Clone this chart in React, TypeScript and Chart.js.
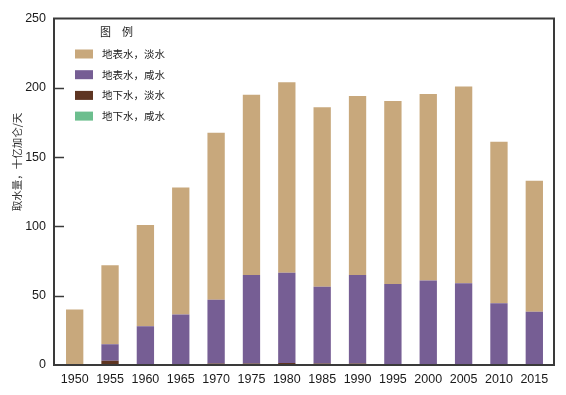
import React, { useEffect, useRef } from 'react';
import { Chart, registerables } from 'chart.js';

Chart.register(...registerables);

const years = ['1950', '1955', '1960', '1965', '1970', '1975', '1980', '1985', '1990', '1995', '2000', '2005', '2010', '2015'];
const groundFresh = [0, 3, 0.5, 0.5, 1, 1, 1.5, 1, 1, 0.5, 0.5, 0.5, 0.5, 0.5];
const groundSaline = [0, 0, 0, 0, 0, 0, 0, 0, 0, 0, 0, 0, 0, 0];
const surfaceSaline = [0, 12, 27.5, 36, 46, 64, 65, 55.5, 64, 58, 60.5, 58.5, 44, 38];
const surfaceFresh = [40, 57, 73, 91.5, 120.5, 130, 137.5, 129.5, 129, 132, 134.5, 142, 116.5, 94.5];
const yTicks = [0, 50, 100, 150, 200, 250];

const legendTitle = '图　例';
const yTitle = '取水量，十亿加仑/天';
const legendOrder = [3, 2, 0, 1];

const NUM_FONT = "'Liberation Sans', Arial, sans-serif";
const CJK_FONT = "'Noto Sans CJK SC', sans-serif";

const decorPlugin = {
  id: 'decor',
  afterDraw(chart: any) {
    const ctx = chart.ctx;
    const area = chart.chartArea;
    const yScale = chart.scales.y;
    const fl = area.left - 3;
    const fr = area.right + 2;
    const ft = area.top;
    const fb = area.bottom;
    ctx.save();
    ctx.strokeStyle = '#3a3a3a';
    ctx.lineWidth = 2;
    ctx.strokeRect(fl, ft, fr - fl, fb - ft);
    ctx.lineWidth = 1.5;
    yTicks.forEach((v) => {
      if (v === 0 || v === 250) return;
      const y = Math.round(yScale.getPixelForValue(v)) + 0.5;
      ctx.beginPath();
      ctx.moveTo(fl, y);
      ctx.lineTo(fl + 10, y);
      ctx.stroke();
    });
    ctx.fillStyle = '#333';
    ctx.font = `10.5px ${CJK_FONT}`;
    ctx.textAlign = 'center';
    ctx.textBaseline = 'middle';
    ctx.translate(17, 162);
    ctx.rotate(-Math.PI / 2);
    ctx.fillText(yTitle, 0, 0);
    ctx.restore();

    ctx.save();
    ctx.fillStyle = '#222';
    ctx.font = `11px ${CJK_FONT}`;
    ctx.textAlign = 'left';
    ctx.textBaseline = 'middle';
    ctx.fillText(legendTitle, 100, 32);
    legendOrder.forEach((idx, i) => {
      const d = chart.data.datasets[idx];
      const cy = 54 + i * 20.7;
      ctx.fillStyle = d.backgroundColor;
      ctx.fillRect(75, cy - 4.5, 18, 9);
      ctx.fillStyle = '#222';
      ctx.font = `10.5px ${CJK_FONT}`;
      ctx.fillText(d.label, 102, cy);
    });
    ctx.restore();
  },
};

export default function App() {
  const ref = useRef<HTMLCanvasElement>(null);
  useEffect(() => {
    document.body.style.margin = '0';
    const chart = new Chart(ref.current!, {
      type: 'bar',
      data: {
        labels: years,
        datasets: [
          { label: '地下水，淡水', data: groundFresh, backgroundColor: '#5E3522' },
          { label: '地下水，咸水', data: groundSaline, backgroundColor: '#6CBE8E' },
          { label: '地表水，咸水', data: surfaceSaline, backgroundColor: '#765E94' },
          { label: '地表水，淡水', data: surfaceFresh, backgroundColor: '#C8A87C' },
        ],
      },
      options: {
        responsive: false,
        animation: false,
        devicePixelRatio: 1,
        layout: { padding: { top: 15, right: 14, left: 0, bottom: 0 } },
        datasets: { bar: { categoryPercentage: 1, barPercentage: 0.49 } },
        plugins: { legend: { display: false }, tooltip: { enabled: false }, title: { display: false } },
        scales: {
          x: {
            stacked: true,
            offset: true,
            grid: { display: false, drawTicks: false },
            border: { display: false },
            ticks: { color: '#1a1a1a', font: { family: NUM_FONT, size: 12.5 }, padding: 7, maxRotation: 0, autoSkip: false },
            afterFit: (s: any) => { s.height = 30; },
          },
          y: {
            stacked: true,
            min: 0,
            max: 250,
            grid: { display: false, drawTicks: false },
            border: { display: false },
            afterBuildTicks: (s: any) => { s.ticks = yTicks.map((v) => ({ value: v })); },
            ticks: { color: '#1a1a1a', font: { family: NUM_FONT, size: 12.5 }, padding: 11 },
            afterFit: (s: any) => { s.width = 57; },
          },
        },
      },
      plugins: [decorPlugin],
    });
    return () => chart.destroy();
  }, []);
  return (
    <div style={{ width: 566, height: 395, background: '#fff' }}>
      <canvas ref={ref} width={566} height={395} />
    </div>
  );
}
